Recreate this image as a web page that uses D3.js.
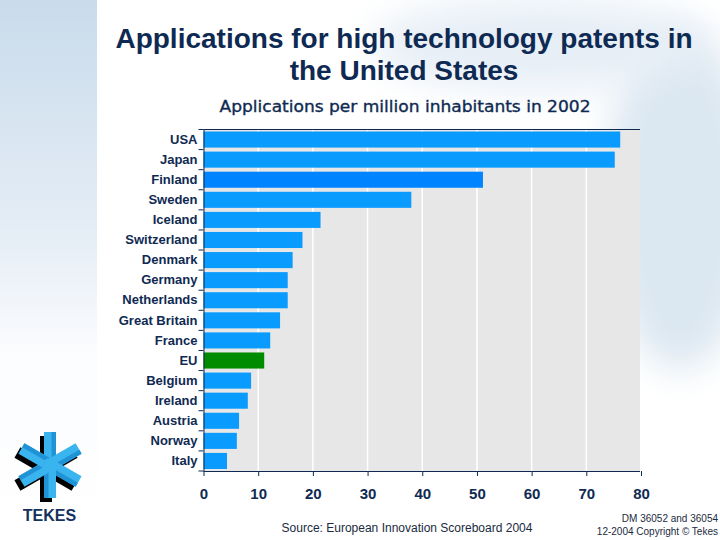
<!DOCTYPE html>
<html><head><meta charset="utf-8">
<script src="https://cdn.jsdelivr.net/npm/d3@7/dist/d3.min.js"></script>
<style>html,body{margin:0;padding:0;background:#fff;}svg{display:block;}</style>
</head><body>
<script>
const categories = ["USA","Japan","Finland","Sweden","Iceland","Switzerland","Denmark","Germany","Netherlands","Great Britain","France","EU","Belgium","Ireland","Austria","Norway","Italy"];
const values = [76.2, 75.2, 51.1, 38.0, 21.4, 18.1, 16.3, 15.4, 15.4, 14.0, 12.2, 11.1, 8.7, 8.1, 6.5, 6.1, 4.3];
const xTicks = [0,10,20,30,40,50,60,70,80];
const titleLines = ["Applications for high technology patents in","the United States"];
const subtitle = "Applications per million inhabitants in 2002";
const source = "Source: European Innovation Scoreboard 2004";
const copyright = ["DM 36052 and 36054","12-2004 Copyright © Tekes"];

const W = 720, H = 540;
const navy = "#0f2a52";
const svg = d3.select("body").append("svg").attr("width", W).attr("height", H);
const defs = svg.append("defs");

// background
const lg = defs.append("linearGradient").attr("id","leftPanel").attr("x1",0).attr("y1",0).attr("x2",0).attr("y2",1);
lg.append("stop").attr("offset","0%").attr("stop-color","#c9dbeb");
lg.append("stop").attr("offset","45%").attr("stop-color","#e6eef6");
lg.append("stop").attr("offset","65%").attr("stop-color","#fbfcfe");
lg.append("stop").attr("offset","100%").attr("stop-color","#ffffff");
const blur = defs.append("filter").attr("id","blur").attr("x","-50%").attr("y","-50%").attr("width","200%").attr("height","200%");
blur.append("feGaussianBlur").attr("stdDeviation",18);

svg.append("rect").attr("width",W).attr("height",H).attr("fill","#ffffff");
svg.append("ellipse").attr("cx",680).attr("cy",200).attr("rx",75).attr("ry",170).attr("fill","#dbe7f1").attr("filter","url(#blur)");
svg.append("ellipse").attr("cx",540).attr("cy",45).attr("rx",170).attr("ry",45).attr("fill","#e6eef6").attr("filter","url(#blur)");
svg.append("rect").attr("x",0).attr("y",0).attr("width",97).attr("height",H).attr("fill","url(#leftPanel)");

// titles
const tt = svg.append("text").attr("text-anchor","middle").attr("fill",navy)
  .style("font-family","'Liberation Sans', Arial, sans-serif").style("font-weight","bold").style("font-size","28px");
titleLines.forEach((t,i)=> tt.append("tspan").attr("x",404).attr("y",48 + i*32).text(t));
svg.append("text").attr("x",405).attr("y",112).attr("text-anchor","middle").attr("fill",navy)
  .attr("stroke",navy).attr("stroke-width",0.35)
  .style("font-family","'DejaVu Sans', Verdana, sans-serif").style("font-size","16px")
  .attr("textLength",371).attr("lengthAdjust","spacingAndGlyphs").text(subtitle);

// chart
const x = d3.scaleLinear().domain([0,80]).range([203.5,641]);
const y = d3.scaleBand().domain(categories).range([129.5,471]).paddingInner(0.2).paddingOuter(0.1);

svg.append("rect").attr("x",x(0)).attr("y",129.5).attr("width",x(80)-x(0)-1).attr("height",471-129.5).attr("fill","#e7e7e7");
svg.append("g").selectAll("line").data(xTicks.filter(d=>d>0 && d<80)).join("line")
  .attr("x1",d=>x(d)).attr("x2",d=>x(d)).attr("y1",129.5).attr("y2",471)
  .attr("stroke","#ffffff").attr("stroke-width",1.5);

const colorFor = c => c==="EU" ? "#008c00" : (c==="Finland" ? "#0084ff" : "#0a9bff");
svg.append("g").selectAll("rect").data(categories).join("rect")
  .attr("x",x(0)).attr("y",c=>y(c)).attr("height",y.bandwidth())
  .attr("width",(c,i)=>x(values[i])-x(0)).attr("fill",colorFor);

// top border
svg.append("line").attr("x1",x(0)).attr("x2",x(80)-1).attr("y1",129.5).attr("y2",129.5).attr("stroke",navy).attr("stroke-width",1);

// axes
const xAxis = d3.axisBottom(x).tickValues(xTicks).tickSize(5).tickPadding(12);
const gx = svg.append("g").attr("transform","translate(0,471)").call(xAxis);
gx.select(".domain").attr("stroke",navy).attr("d",`M${x(0)},0.5H${x(80)-1}`);
gx.selectAll(".tick line").attr("stroke",navy);
gx.selectAll("text").attr("fill",navy).style("font-family","'Liberation Sans', Arial, sans-serif")
  .style("font-weight","bold").style("font-size","15px");

const yAxis = d3.axisLeft(y).tickSize(0).tickPadding(6);
const gy = svg.append("g").attr("transform",`translate(${x(0)},0)`).call(yAxis);
gy.select(".domain").attr("stroke",navy).attr("d","M0.5,129.5V471");
gy.selectAll("text").attr("fill",navy).style("font-family","'Liberation Sans', Arial, sans-serif")
  .style("font-weight","bold").style("font-size","13px");
const bounds = d3.range(categories.length+1).map(i => 129.5 + i*((471-129.5)/categories.length));
gy.append("g").selectAll("line").data(bounds).join("line")
  .attr("x1",-5).attr("x2",0).attr("y1",d=>d).attr("y2",d=>d).attr("stroke",navy);

// footer
svg.append("text").attr("x",407).attr("y",532).attr("text-anchor","middle").attr("fill","#1a2a40")
  .style("font-family","'Liberation Sans', Arial, sans-serif").style("font-size","12px").text(source);
const ct = svg.append("text").attr("text-anchor","end").attr("fill","#1a2a40")
  .style("font-family","'Liberation Sans', Arial, sans-serif").style("font-size","10px");
copyright.forEach((t,i)=> ct.append("tspan").attr("x",718).attr("y",522 + i*13).text(t));

// TEKES logo
const angles = [-90, -30, 30, 90, 150, 210];
const shadow = svg.append("g").attr("transform","translate(46,469)");
angles.forEach(a => {
  shadow.append("rect").attr("transform",`rotate(${a})`).attr("x",0).attr("y",-6).attr("width",33).attr("height",12).attr("fill","#000");
});
const logo = svg.append("g").attr("transform","translate(50,465)");
angles.forEach(a => {
  const g = logo.append("g").attr("transform",`rotate(${a})`);
  g.append("rect").attr("x",0).attr("y",-6).attr("width",33).attr("height",12).attr("fill","#3ab4ef");
  g.append("rect").attr("x",0).attr("y",1.5).attr("width",33).attr("height",4.5).attr("fill","#1f93d6");
});
logo.append("circle").attr("r",7).attr("fill","#3ab4ef");
svg.append("text").attr("x",49.5).attr("y",521).attr("text-anchor","middle").attr("fill","#14325e")
  .style("font-family","'Liberation Sans', Arial, sans-serif").style("font-weight","bold").style("font-size","16px").text("TEKES");
</script>
</body></html>
